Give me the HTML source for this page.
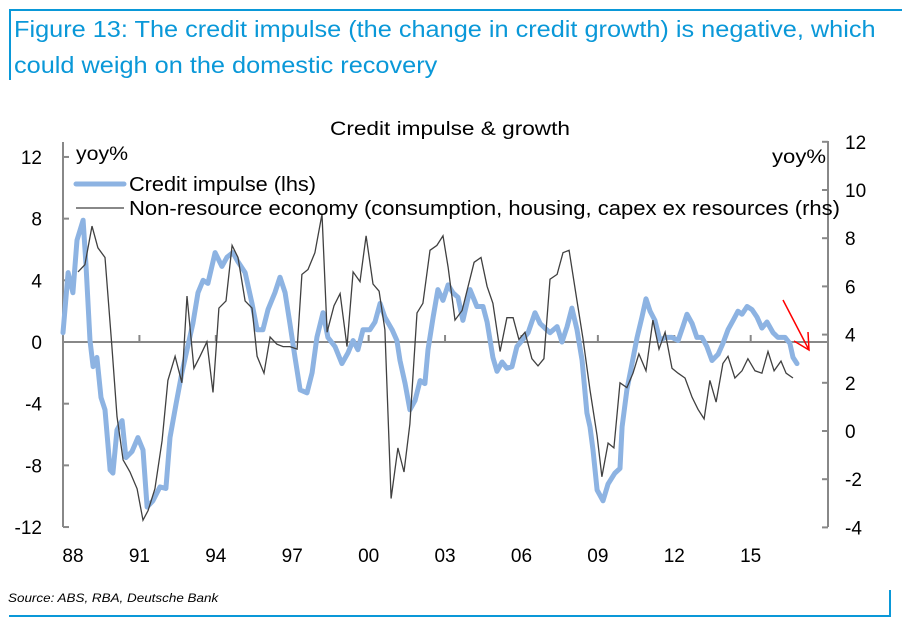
<!DOCTYPE html>
<html><head><meta charset="utf-8"><style>
body{margin:0;width:902px;height:620px;background:#fff;font-family:"Liberation Sans",sans-serif;overflow:hidden;position:relative}
.t{position:absolute;left:14px;color:#0a98d8;font-size:23px;white-space:nowrap;transform-origin:left top;transform:scaleX(1.1)}
</style></head><body>
<div style="position:absolute;left:9px;top:9px;width:893px;height:2px;background:#0a98d8"></div>
<div style="position:absolute;left:9px;top:9px;width:2px;height:71px;background:#0a98d8"></div>
<div class="t" style="top:16px">Figure 13: The credit impulse (the change in credit growth) is negative, which</div>
<div class="t" style="top:52px">could weigh on the domestic recovery</div>
<svg id="c" width="902" height="620" style="position:absolute;left:0;top:0" font-family="Liberation Sans, sans-serif"></svg>
<div style="position:absolute;left:8px;top:591px;font-size:12px;font-style:italic;color:#000;transform-origin:left top;transform:scaleX(1.12)">Source: ABS, RBA, Deutsche Bank</div>
<div style="position:absolute;left:9px;top:615px;width:882px;height:2px;background:#0a98d8"></div>
<div style="position:absolute;left:889px;top:590px;width:2px;height:27px;background:#0a98d8"></div>
<script>
const creditYears=[1988.00,1988.20,1988.39,1988.55,1988.79,1988.90,1989.06,1989.18,1989.33,1989.49,1989.65,1989.85,1989.96,1990.12,1990.32,1990.47,1990.71,1990.94,1991.14,1991.30,1991.53,1991.81,1992.04,1992.20,1992.44,1992.67,1992.87,1993.10,1993.30,1993.50,1993.69,1993.97,1994.24,1994.44,1994.67,1994.87,1995.15,1995.42,1995.62,1995.85,1996.05,1996.32,1996.52,1996.72,1996.91,1997.11,1997.31,1997.58,1997.78,1997.97,1998.21,1998.40,1998.68,1998.95,1999.19,1999.39,1999.58,1999.78,2000.05,2000.25,2000.45,2000.64,2000.92,2001.11,2001.23,2001.43,2001.62,2001.82,2002.02,2002.21,2002.33,2002.53,2002.72,2002.92,2003.12,2003.31,2003.51,2003.70,2003.98,2004.25,2004.49,2004.65,2004.88,2005.04,2005.24,2005.43,2005.63,2005.82,2006.02,2006.26,2006.53,2006.73,2006.92,2007.12,2007.40,2007.59,2007.79,2007.98,2008.18,2008.38,2008.57,2008.69,2008.81,2008.97,2009.20,2009.40,2009.67,2009.87,2009.95,2010.14,2010.34,2010.54,2010.73,2010.89,2011.05,2011.24,2011.44,2011.64,2011.91,2012.15,2012.34,2012.50,2012.70,2012.89,2013.09,2013.28,2013.48,2013.72,2013.91,2014.11,2014.31,2014.50,2014.66,2014.86,2015.05,2015.25,2015.44,2015.64,2015.88,2016.07,2016.35,2016.54,2016.66,2016.82];
const creditValues=[0.6,4.5,3.2,6.6,7.9,5.1,0.1,-1.6,-1,-3.6,-4.4,-8.3,-8.5,-5.7,-5.1,-7.5,-7.1,-6.2,-7,-10.7,-10.3,-9.4,-9.5,-6.2,-4,-2,-0.5,1.2,3.2,4,3.8,5.8,4.9,5.5,5.8,5.2,4.5,2.5,0.8,0.8,2.1,3.2,4.2,3.2,1.2,-1,-3.1,-3.3,-2,0.3,1.9,0.3,-0.3,-1.4,-0.7,0.1,-0.5,0.8,0.8,1.3,2.5,1.6,0.8,0.1,-1.2,-2.7,-4.4,-3.8,-2.5,-2.7,-0.5,1.6,3.4,2.7,3.7,3.2,2.9,1.4,3.4,2.3,2.3,1.3,-1,-1.9,-1.3,-1.7,-1.6,-0.3,0.1,0.6,1.9,1.2,0.9,0.6,1.0,0,1,2.2,0.8,-1.2,-4.6,-5.5,-7,-9.6,-10.3,-9.2,-8.5,-8.2,-5.5,-3.1,-1.4,0.3,1.6,2.8,2,1.4,0.1,0.3,0.3,0.1,1,1.8,1.2,0.3,0.3,-0.3,-1.2,-0.8,-0.1,0.8,1.4,2,1.8,2.3,2.1,1.6,0.9,1.3,0.6,0.3,0.3,-0.1,-1,-1.4];
const nonResYears=[1988.59,1988.86,1989.14,1989.37,1989.65,1989.92,1990.12,1990.36,1990.63,1990.91,1991.14,1991.34,1991.61,1991.89,1992.12,1992.40,1992.67,1992.87,1993.14,1993.38,1993.65,1993.89,1994.05,1994.12,1994.40,1994.64,1994.87,1995.15,1995.42,1995.62,1995.89,1996.13,1996.40,1996.64,1996.91,1997.19,1997.38,1997.62,1997.89,1998.17,1998.37,1998.64,1998.88,1999.15,1999.39,1999.66,1999.90,2000.17,2000.41,2000.64,2000.88,2001.15,2001.39,2001.62,2001.90,2002.13,2002.41,2002.68,2002.92,2003.12,2003.39,2003.67,2004.14,2004.41,2004.65,2004.88,2005.16,2005.43,2005.67,2005.90,2006.14,2006.41,2006.65,2006.88,2007.12,2007.40,2007.63,2007.87,2008.18,2008.42,2008.69,2008.97,2009.16,2009.40,2009.63,2009.87,2010.14,2010.38,2010.61,2010.89,2011.16,2011.40,2011.64,2011.91,2012.15,2012.42,2012.70,2012.93,2013.17,2013.40,2013.64,2013.91,2014.11,2014.38,2014.66,2014.89,2015.17,2015.44,2015.68,2015.92,2016.19,2016.39,2016.66];
const nonResValues=[6.6,6.9,8.5,7.6,7.2,3.5,0.6,-1.2,-1.7,-2.4,-3.7,-3.3,-2.4,-0.4,2.1,3.1,2,5.6,2.6,3.1,3.7,1.6,4,5.1,5.4,7.7,7.2,5.4,5.1,3.1,2.4,3.9,3.6,3.5,3.5,3.4,6.5,6.7,7.4,9,4.1,5.2,5.7,3.5,6.6,6.2,8.1,6.1,5.8,4.2,-2.8,-0.7,-1.7,0.3,4.9,5.3,7.5,7.7,8.1,6.8,4.6,5,7,7.2,6,5.3,3.3,4.7,4.7,3.8,4.1,3,2.7,3,6.3,6.5,7.4,7.5,5.4,3.8,1.7,-0.2,-1.9,-0.5,-0.7,2,1.8,2.4,3.2,2.5,4.6,3.4,4.1,2.6,2.4,2.2,1.4,0.9,0.5,2.1,1.2,2.8,3.1,2.2,2.5,3,2.5,2.4,3.3,2.5,2.9,2.4,2.2];
const leftTicks=[12,8,4,0,-4,-8,-12];
const rightTicks=[12,10,8,6,4,2,0,-2,-4];
const xTickYears=[1988,1991,1994,1997,2000,2003,2006,2009,2012,2015];
const xTickLabels=["88","91","94","97","00","03","06","09","12","15"];

const NS="http://www.w3.org/2000/svg";
const svg=document.getElementById('c');
const X0=63,X1=828;
const xs=y=>X0+(y-1988)*25.47;
const yl=v=>342-v*15.42;
const yr=v=>431-v*24.1;
function mk(tag,attrs,parent){const e=document.createElementNS(NS,tag);for(const k in attrs)e.setAttribute(k,attrs[k]);(parent||svg).appendChild(e);return e;}
function txt(s,attrs){const e=mk('text',attrs);e.textContent=s;return e;}

let e;
e=txt('Credit impulse & growth',{x:330,y:135,'font-size':19,fill:'#000',textLength:240,lengthAdjust:'spacingAndGlyphs'});



e=mk('line',{x1:X0,y1:142,x2:X0,y2:527,stroke:'#888','stroke-width':2});


leftTicks.forEach(v=>{
  const y=yl(v);
  const t=mk('line',{x1:X0,y1:y,x2:X0+6,y2:y,stroke:'#888','stroke-width':2});
  
  
  const l=txt(String(v),{x:42,y:y+7,'text-anchor':'end','font-size':19,fill:'#000'});
  
  
});
e=mk('line',{x1:X1,y1:141,x2:X1,y2:527,stroke:'#888','stroke-width':2});


rightTicks.forEach(v=>{
  const y=yr(v);
  const t=mk('line',{x1:X1-6,y1:y,x2:X1,y2:y,stroke:'#888','stroke-width':2});
  
  
  const l=txt(String(v),{x:845,y:y+7,'text-anchor':'start','font-size':19,fill:'#000'});
  
  
});
e=mk('line',{x1:X0,y1:yl(0),x2:X1,y2:yl(0),stroke:'#888','stroke-width':2});


xTickYears.forEach((yv,i)=>{
  const x=xs(yv);
  if(i>0){const t=mk('line',{x1:x,y1:yl(0)-7,x2:x,y2:yl(0),stroke:'#888','stroke-width':2});
  
  }
  const l=txt(xTickLabels[i],{x:x+(i===0?10:0),y:562,'text-anchor':'middle','font-size':19,fill:'#000'});
  
  
});
e=txt('yoy%',{x:76,y:160,'font-size':19,fill:'#000',textLength:52,lengthAdjust:'spacingAndGlyphs'});


e=txt('yoy%',{x:772,y:163,'font-size':19,fill:'#000',textLength:54,lengthAdjust:'spacingAndGlyphs'});



const cp=creditYears.map((y,i)=>xs(y).toFixed(1)+','+yl(creditValues[i]).toFixed(1)).join(' ');
e=mk('polyline',{points:cp,fill:'none',stroke:'#8db3e2','stroke-width':5,'stroke-linejoin':'round','stroke-linecap':'round'});


const np=nonResYears.map((y,i)=>xs(y).toFixed(1)+','+yr(nonResValues[i]).toFixed(1)).join(' ');
e=mk('polyline',{points:np,fill:'none',stroke:'#404040','stroke-width':1.3});



e=mk('line',{x1:76,y1:184,x2:124,y2:184,stroke:'#8db3e2','stroke-width':5,'stroke-linecap':'round'});


e=txt('Credit impulse (lhs)',{x:129,y:191,'font-size':20,fill:'#000',textLength:187,lengthAdjust:'spacingAndGlyphs'});


e=mk('line',{x1:76,y1:208,x2:124,y2:208,stroke:'#404040','stroke-width':1.3});


e=txt('Non-resource economy (consumption, housing, capex ex resources (rhs)',{x:129,y:215,'font-size':20,fill:'#000',textLength:711,lengthAdjust:'spacingAndGlyphs'});



e=mk('path',{d:'M783,300 L809,350 M794,341 L809,350 L808,332',fill:'none',stroke:'#ff0000','stroke-width':1.5});


</script>
</body></html>
